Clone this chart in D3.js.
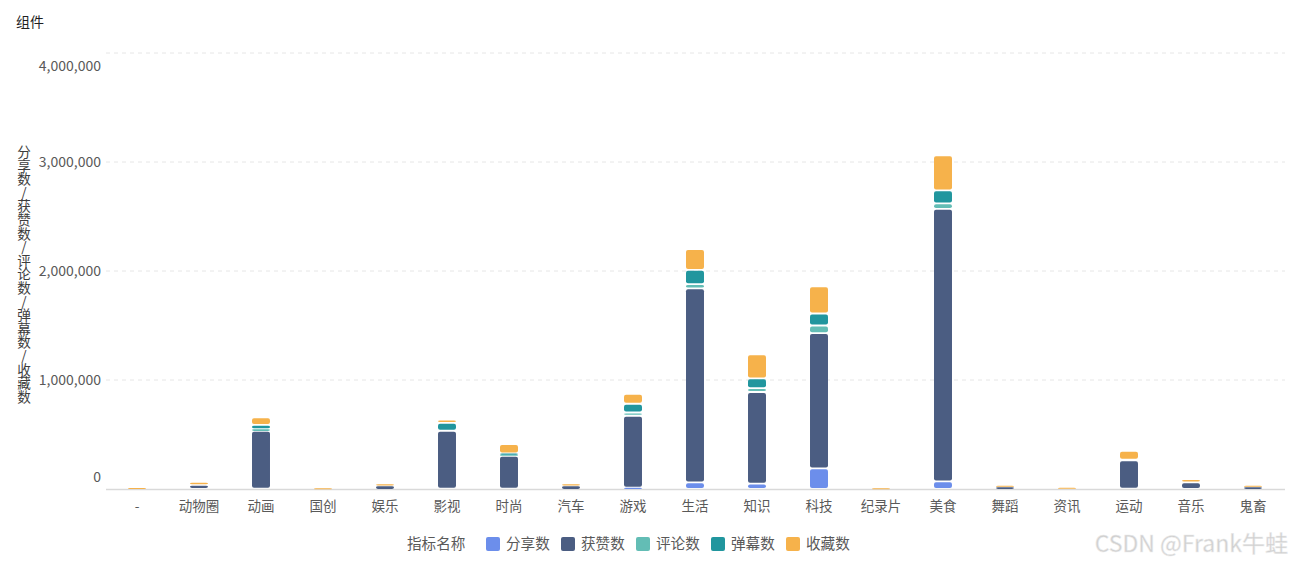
<!DOCTYPE html>
<html>
<head>
<meta charset="utf-8">
<script src="https://cdn.jsdelivr.net/npm/d3@7"></script>
<style>
  body { margin: 0; background: #fff; }
  svg { font-family: "Noto Sans CJK SC", "Noto Sans", sans-serif; }
</style>
</head>
<body>
<div id="chart"></div>
<script>
// Define SVG area dimensions
var svgWidth = 1292;
var svgHeight = 565;

// Chart data
var categories = ["-", "动物圈", "动画", "国创", "娱乐", "影视", "时尚", "汽车", "游戏", "生活",
    "知识", "科技", "纪录片", "美食", "舞蹈", "资讯", "运动", "音乐", "鬼畜"];
var seriesNames = ["分享数", "获赞数", "评论数", "弹幕数", "收藏数"];
var shareCounts = [0, 2000, 3000, 0, 1000, 3000, 4000, 1000, 12000, 60000,
    50000, 190000, 0, 70000, 1000, 0, 3000, 2000, 1000];
var likeCounts = [2000, 35000, 530000, 2000, 25000, 530000, 300000, 25000, 660000, 1780000,
    840000, 1240000, 2000, 2500000, 15000, 3000, 260000, 60000, 15000];
var commentCounts = [500, 3000, 15000, 500, 3000, 3000, 10000, 3000, 30000, 40000,
    35000, 70000, 500, 50000, 2000, 1000, 3000, 3000, 2000];
var danmakuCounts = [500, 3000, 40000, 500, 3000, 70000, 12000, 3000, 80000, 130000,
    90000, 110000, 500, 120000, 2000, 1000, 3000, 3000, 2000];
var favoriteCounts = [6000, 15000, 70000, 5000, 12000, 30000, 85000, 12000, 90000, 190000,
    220000, 250000, 5000, 320000, 10000, 7000, 80000, 15000, 10000];
var yTicks = [0, 1000000, 2000000, 3000000, 4000000];

var colors = ["#6c8eeb", "#4b5d82", "#63bdb5", "#21969e", "#f6b24b"];

// Build a table for d3.stack
var table = categories.map(function (c, i) {
    return {
        cat: c,
        "分享数": shareCounts[i],
        "获赞数": likeCounts[i],
        "评论数": commentCounts[i],
        "弹幕数": danmakuCounts[i],
        "收藏数": favoriteCounts[i]
    };
});

var plot = { left: 106, right: 1285, top: 53, bottom: 489 };

var svg = d3.select("#chart")
    .append("svg")
    .attr("width", svgWidth)
    .attr("height", svgHeight);

// Title
svg.append("text")
    .attr("x", 16)
    .attr("y", 27)
    .attr("font-size", 14)
    .attr("fill", "#1f1f1f")
    .text("组件");

// Scales
var xScale = d3.scaleBand()
    .domain(categories)
    .range([plot.left, plot.right - 1])
    .paddingInner(0.71)
    .paddingOuter(0.355);

var yScale = d3.scaleLinear()
    .domain([0, 4000000])
    .range([plot.bottom, plot.top]);

// Gridlines
svg.append("g")
    .selectAll("line")
    .data(yTicks.slice(1))
    .enter()
    .append("line")
    .attr("x1", plot.left)
    .attr("x2", plot.right)
    .attr("y1", d => yScale(d))
    .attr("y2", d => yScale(d))
    .attr("stroke", "#e6e6e6")
    .attr("stroke-dasharray", "4,4");

// Left axis (labels only)
var leftAxis = d3.axisLeft(yScale)
    .tickValues(yTicks)
    .tickFormat(d3.format(","))
    .tickSize(0)
    .tickPadding(5);

var yAxisG = svg.append("g")
    .attr("transform", `translate(${plot.left}, 0)`)
    .call(leftAxis);
yAxisG.select(".domain").remove();
yAxisG.selectAll("text")
    .attr("font-size", 14)
    .attr("font-family", "\"Noto Sans CJK SC\", sans-serif")
    .attr("fill", "#595959")
    .attr("dy", function (d) {
        if (d === 4000000) return "1.25em";
        if (d === 0) return "-0.55em";
        return "0.32em";
    });

// Bottom axis
var bottomAxis = d3.axisBottom(xScale)
    .tickSize(0)
    .tickPadding(12);

var xAxisG = svg.append("g")
    .attr("transform", `translate(0, ${plot.bottom})`)
    .call(bottomAxis);
xAxisG.select(".domain")
    .attr("d", `M${plot.left},0.5H${plot.right}`)
    .attr("stroke", "#d9d9d9")
    .attr("stroke-width", 1.5);
xAxisG.selectAll("text")
    .attr("font-size", 13.5)
    .attr("font-family", "\"Noto Sans CJK SC\", sans-serif")
    .attr("fill", "#595959");

// Stacked bars: white gaps between segments, thin slivers drawn as lines
var stacked = d3.stack().keys(seriesNames)(table);

function segH(d) { return yScale(d[0]) - yScale(d[1]); }

var layers = svg.append("g")
    .selectAll("g")
    .data(stacked)
    .enter()
    .append("g")
    .attr("fill", (d, i) => colors[i]);

layers.selectAll("rect")
    .data(d => d.filter(s => segH(s) >= 0.5))
    .enter()
    .append("rect")
    .attr("x", d => xScale(d.data.cat))
    .attr("width", xScale.bandwidth())
    .attr("y", d => segH(d) > 3 ? yScale(d[1]) + 0.9 : yScale(d[1]))
    .attr("height", d => segH(d) > 3 ? segH(d) - 1.8 : Math.max(segH(d), 1))
    .attr("rx", 2)
    .attr("ry", 2);

// Vertical y axis title
svg.append("text")
    .attr("x", 24)
    .attr("y", 145)
    .attr("font-size", 13.6)
    .attr("fill", "#3d3d3d")
    .style("writing-mode", "vertical-rl")
    .style("text-orientation", "upright")
    .text("分享数/获赞数/评论数/弹幕数/收藏数");

// Legend
var legend = svg.append("g")
    .attr("transform", "translate(407, 544)");

legend.append("text")
    .attr("x", 0)
    .attr("dy", "0.35em")
    .attr("font-size", 14.6)
    .attr("fill", "#595959")
    .text("指标名称");

var legendItems = legend.selectAll(".item")
    .data(seriesNames)
    .enter()
    .append("g")
    .attr("class", "item")
    .attr("transform", (d, i) => `translate(${79 + i * 75}, 0)`);

legendItems.append("rect")
    .attr("x", 0)
    .attr("y", -7)
    .attr("width", 14)
    .attr("height", 14)
    .attr("rx", 2)
    .attr("fill", (d, i) => colors[i]);

legendItems.append("text")
    .attr("x", 20)
    .attr("dy", "0.35em")
    .attr("font-size", 14.6)
    .attr("fill", "#595959")
    .text(d => d);

// Watermark
svg.append("text")
    .attr("x", 1288)
    .attr("y", 552)
    .attr("text-anchor", "end")
    .attr("font-size", 23)
    .attr("fill", "#d0d0d0")
    .attr("stroke", "#ececec")
    .attr("stroke-width", 0.5)
    .text("CSDN @Frank牛蛙");
</script>
</body>
</html>
